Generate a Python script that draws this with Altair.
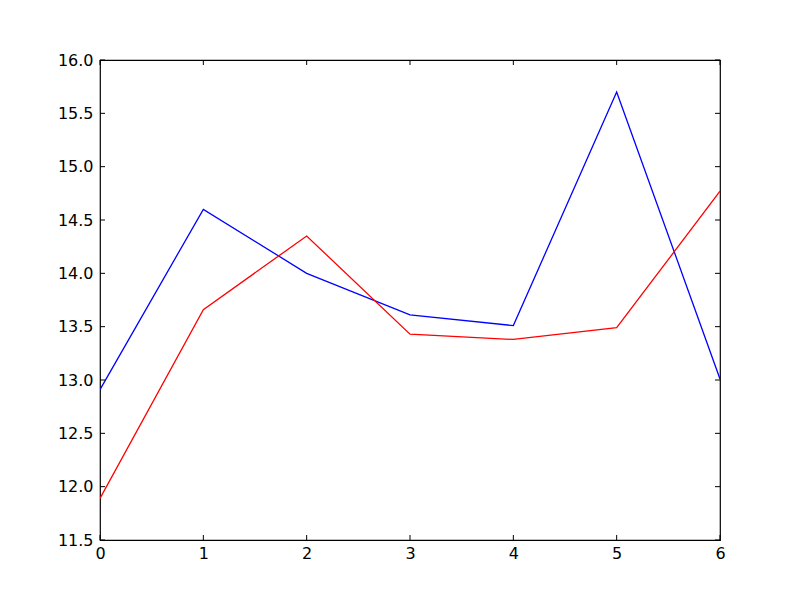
import altair as alt
import pandas as pd

x_vals = [0, 1, 2, 3, 4, 5, 6]
blue_vals = [12.91, 14.60, 14.00, 13.61, 13.51, 15.70, 13.01]
red_vals = [11.89, 13.66, 14.35, 13.43, 13.38, 13.49, 14.77]
series_names = ["blue", "red"]
series_colors = ["#0000ff", "#ff0000"]
x_ticks = [0, 1, 2, 3, 4, 5, 6]
y_ticks = [11.5, 12.0, 12.5, 13.0, 13.5, 14.0, 14.5, 15.0, 15.5, 16.0]

rows = []
for xv, b, r in zip(x_vals, blue_vals, red_vals):
    rows.append({"x": xv, "y": b, "s": "blue"})
    rows.append({"x": xv, "y": r, "s": "red"})
df = pd.DataFrame(rows)
yt = pd.DataFrame({"v": y_ticks})
xt = pd.DataFrame({"v": x_ticks})

W, H = 620, 480
xs = alt.Scale(domain=[0, 6], nice=False, zero=False)
ys = alt.Scale(domain=[11.5, 16.0], nice=False, zero=False)
FS = 16

lines = alt.Chart(df).mark_line(strokeWidth=1.3, clip=True).encode(
    x=alt.X("x:Q", scale=xs, title=None,
            axis=alt.Axis(values=x_ticks, format="d", tickSize=0, labelPadding=5,
                          grid=False, domain=False, labelFontSize=FS, labelFlush=False,
                          labelOverlap=False,
                          labelColor="black", labelFont="DejaVu Sans")),
    y=alt.Y("y:Q", scale=ys, title=None,
            axis=alt.Axis(values=y_ticks, format=".1f", tickSize=0, labelPadding=7,
                          grid=False, domain=False, labelFontSize=FS, labelFlush=False,
                          labelOverlap=False,
                          labelColor="black", labelFont="DejaVu Sans")),
    color=alt.Color("s:N", scale=alt.Scale(domain=series_names, range=series_colors), legend=None),
    detail="s:N",
)

tick_len = 5
yl = alt.Chart(yt).mark_rule(color="black", strokeWidth=1).encode(
    y=alt.Y("v:Q", scale=ys), x=alt.value(0), x2=alt.value(tick_len))
yr = alt.Chart(yt).mark_rule(color="black", strokeWidth=1).encode(
    y=alt.Y("v:Q", scale=ys), x=alt.value(W - tick_len), x2=alt.value(W))
xb = alt.Chart(xt).mark_rule(color="black", strokeWidth=1).encode(
    x=alt.X("v:Q", scale=xs), y=alt.value(H), y2=alt.value(H - tick_len))
xtp = alt.Chart(xt).mark_rule(color="black", strokeWidth=1).encode(
    x=alt.X("v:Q", scale=xs), y=alt.value(0), y2=alt.value(tick_len))

chart = alt.layer(lines, yl, yr, xb, xtp).properties(
    width=W, height=H,
    padding={"left": 92, "top": 52, "right": 72, "bottom": 52},
    autosize=alt.AutoSizeParams(type="none"),
    background="white",
).configure_view(stroke="black", strokeWidth=1.2)

chart.save("out.html", embed_options={"renderer": "svg", "actions": False})
